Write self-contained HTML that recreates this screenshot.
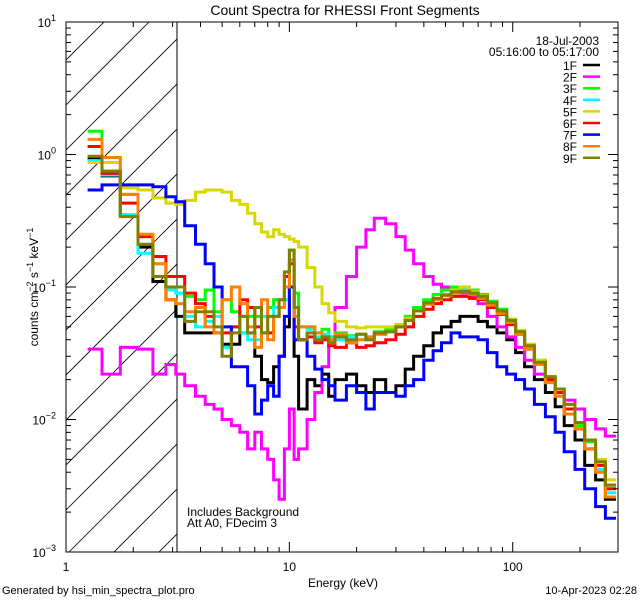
<!DOCTYPE html>
<html><head><meta charset="utf-8"><style>
body{margin:0;background:#fff;}
svg{display:block;font-family:"Liberation Sans",sans-serif;}
</style></head><body>
<svg id="chart" width="640" height="600" viewBox="0 0 640 600" xmlns="http://www.w3.org/2000/svg">
<defs>
<clipPath id="clip"><rect x="66" y="22" width="552" height="530"/></clipPath>
<clipPath id="hclip"><rect x="66" y="22" width="111" height="530"/></clipPath>
</defs>
<rect width="640" height="600" fill="#fff"/>
<text x="345" y="15" font-size="14" text-anchor="middle">Count Spectra for RHESSI Front Segments</text>
<g id="hatch" clip-path="url(#hclip)"></g>
<line x1="177" y1="22" x2="177" y2="552" stroke="#000" stroke-width="1"/>
<g id="series" clip-path="url(#clip)"></g>
<rect x="66" y="22" width="552" height="530" fill="none" stroke="#000" stroke-width="1"/>
<g id="ticks"></g>
<text transform="translate(38,287) rotate(-90)" font-size="12" text-anchor="middle">counts cm<tspan dy="-5" font-size="9">−2</tspan><tspan dy="5"> s</tspan><tspan dy="-5" font-size="9">−1</tspan><tspan dy="5"> keV</tspan><tspan dy="-5" font-size="9">−1</tspan></text>
<text x="343" y="587" font-size="12" text-anchor="middle">Energy (keV)</text>
<text x="599" y="45" font-size="12" text-anchor="end">18-Jul-2003</text>
<text x="599" y="56" font-size="12" text-anchor="end">05:16:00 to 05:17:00</text>
<g id="legend"></g>
<text x="187" y="516" font-size="12">Includes Background</text>
<text x="187" y="527" font-size="12">Att A0, FDecim 3</text>
<text x="2" y="594" font-size="11">Generated by hsi_min_spectra_plot.pro</text>
<text x="637" y="594" font-size="11" text-anchor="end">10-Apr-2023 02:28</text>
</svg>
<script>
const energyEdges=[1.25,1.45,1.75,2.1,2.45,2.8,3.1,3.4,3.8,4.2,4.6,5,5.5,6,6.5,7,7.5,8,8.5,9,9.5,10,10.5,11,12,13,14,15,16,18,20,22,24,27,30,33,36,40,44,48,53,58,64,70,77,85,94,103,113,125,140,155,170,190,210,235,260,290];
const segNames=["1F","2F","3F","4F","5F","6F","7F","8F","9F"];
const segColors=["#000000","#ff00ff","#00ff00","#00ffff","#d8d800","#ff0000","#0000ff","#ff8000","#808000"];
const s1F=[0.93,0.69,0.35,0.2,0.11,0.08,0.06,0.045,0.045,0.045,0.045,0.037,0.037,0.045,0.045,0.03,0.02,0.019,0.025,0.03,0.05,0.1,0.03,0.012,
0.02,0.018,0.022,0.015,0.02,0.022,0.018,0.016,0.02,0.016,0.018,0.024,0.03,0.036,0.045,0.05,0.055,0.06,0.06,0.055,0.05,0.045,0.04,0.032,0.025,0.02,0.016,0.0125,0.009,0.007,0.0045,0.0035,0.0025];
const s2F=[0.034,0.022,0.035,0.034,0.022,0.026,0.022,0.018,0.015,0.013,0.012,0.01,0.009,0.008,0.006,0.008,0.006,0.005,0.0035,0.0025,0.006,0.012,0.005,0.006,
0.01,0.016,0.025,0.04,0.07,0.12,0.2,0.27,0.33,0.3,0.24,0.19,0.15,0.12,0.105,0.1,0.095,0.09,0.085,0.075,0.06,0.05,0.042,0.035,0.028,0.022,0.02,0.017,0.014,0.012,0.01,0.0085,0.0075];
const s3F=[1.5,0.75,0.5,0.24,0.15,0.1,0.1,0.085,0.08,0.095,0.065,0.08,0.065,0.06,0.06,0.06,0.06,0.07,0.08,0.08,0.12,0.19,0.09,0.05,
0.05,0.045,0.048,0.042,0.045,0.043,0.044,0.042,0.046,0.048,0.052,0.06,0.07,0.08,0.088,0.095,0.1,0.1,0.095,0.088,0.078,0.068,0.057,0.046,0.036,0.028,0.021,0.016,0.012,0.009,0.0068,0.0048,0.0032];
const s4F=[0.9,0.7,0.35,0.18,0.12,0.095,0.09,0.06,0.05,0.055,0.06,0.035,0.05,0.045,0.04,0.04,0.06,0.06,0.07,0.07,0.08,0.15,0.07,0.05,
0.048,0.042,0.044,0.041,0.04,0.042,0.04,0.041,0.044,0.046,0.05,0.057,0.066,0.076,0.082,0.088,0.092,0.095,0.09,0.084,0.074,0.064,0.054,0.044,0.034,0.026,0.019,0.015,0.011,0.0085,0.006,0.0042,0.0028];
const s5F=[0.87,0.87,0.56,0.54,0.47,0.43,0.42,0.45,0.52,0.54,0.54,0.52,0.45,0.42,0.36,0.3,0.26,0.24,0.27,0.25,0.24,0.23,0.22,0.2,
0.14,0.1,0.075,0.064,0.055,0.05,0.049,0.05,0.05,0.05,0.052,0.058,0.066,0.076,0.082,0.088,0.095,0.1,0.092,0.086,0.076,0.066,0.057,0.047,0.037,0.028,0.021,0.017,0.013,0.0095,0.007,0.005,0.0035];
const s6F=[1.15,0.72,0.43,0.24,0.17,0.12,0.12,0.09,0.075,0.06,0.045,0.045,0.05,0.08,0.07,0.05,0.045,0.045,0.06,0.07,0.12,0.15,0.05,0.04,
0.042,0.038,0.04,0.036,0.035,0.038,0.035,0.036,0.038,0.04,0.044,0.05,0.06,0.068,0.075,0.08,0.085,0.085,0.082,0.08,0.07,0.062,0.052,0.044,0.034,0.026,0.02,0.016,0.012,0.0085,0.006,0.0045,0.003];
const s7F=[0.54,0.59,0.59,0.59,0.57,0.48,0.44,0.29,0.21,0.15,0.1,0.05,0.025,0.025,0.018,0.011,0.014,0.018,0.015,0.03,0.06,0.1,0.04,0.04,
0.03,0.024,0.02,0.018,0.014,0.018,0.016,0.012,0.016,0.016,0.015,0.018,0.02,0.028,0.033,0.038,0.045,0.042,0.042,0.04,0.032,0.025,0.022,0.02,0.017,0.013,0.0105,0.008,0.0057,0.0042,0.003,0.0022,0.0018];
const s8F=[1.3,0.95,0.5,0.25,0.15,0.08,0.075,0.065,0.07,0.05,0.045,0.08,0.1,0.075,0.05,0.035,0.08,0.04,0.06,0.07,0.1,0.16,0.06,0.05,
0.05,0.045,0.042,0.04,0.044,0.038,0.04,0.042,0.044,0.046,0.05,0.056,0.066,0.074,0.08,0.086,0.09,0.092,0.088,0.082,0.073,0.063,0.054,0.044,0.034,0.026,0.019,0.015,0.011,0.0085,0.006,0.004,0.0026];
const s9F=[0.97,0.75,0.34,0.21,0.12,0.1,0.1,0.055,0.065,0.065,0.05,0.03,0.045,0.06,0.045,0.07,0.045,0.06,0.06,0.08,0.13,0.19,0.07,0.04,
0.045,0.04,0.042,0.038,0.042,0.04,0.044,0.04,0.045,0.046,0.05,0.056,0.066,0.076,0.082,0.087,0.092,0.093,0.09,0.085,0.076,0.066,0.056,0.046,0.036,0.027,0.021,0.017,0.013,0.0095,0.007,0.0048,0.0032];
const yTickLabels=["10","10","10","10","10"];
const yTickExps=["1","0","−1","−2","−3"];
const yTickValues=[10,1,0.1,0.01,0.001];
const xTickValues=[1,10,100];
const xTickLabels=["1","10","100"];

const NS="http://www.w3.org/2000/svg";
const X0=66,X1=618,Y0=22,Y1=552;
const xMin=0,xMax=Math.log10(296),yMin=-3,yMax=1;
function xs(e){return X0+(Math.log10(e)-xMin)/(xMax-xMin)*(X1-X0);}
function ys(v){return Y1-(Math.log10(v)-yMin)/(yMax-yMin)*(Y1-Y0);}
function mk(tag,attrs,parent){const el=document.createElementNS(NS,tag);for(const k in attrs)el.setAttribute(k,attrs[k]);parent.appendChild(el);return el;}

// hatch
const hatch=document.getElementById('hatch');
for(let k=-12;k<20;k++){
  const x=66+k*45;
  const h=mk('line',{x1:x,y1:600,x2:x+600,y2:0,stroke:'#000','stroke-width':0.8},hatch);
  
  
}

// series
const allSeries=[s1F,s2F,s3F,s4F,s5F,s6F,s7F,s8F,s9F];
const sg=document.getElementById('series');
allSeries.forEach((vals,i)=>{
  let d="";
  vals.forEach((v,j)=>{
    const xa=xs(energyEdges[j]).toFixed(1),xb=xs(energyEdges[j+1]).toFixed(1),y=ys(v).toFixed(1);
    d+=(j===0?"M":"L")+xa+","+y+"L"+xb+","+y;
  });
  const p=mk('path',{d:d,fill:'none',stroke:segColors[i],'stroke-width':3,'stroke-linejoin':'miter'},sg);
  
  
});

// ticks
const tg=document.getElementById('ticks');
for(let dec=0;dec<3;dec++){
  for(let m=1;m<10;m++){
    const e=Math.pow(10,dec)*m;
    if(e>296)break;
    const x=xs(e),len=m===1?10:5;
    const t1=mk('line',{x1:x,y1:Y1,x2:x,y2:Y1-len,stroke:'#000'},tg);
    
    
    const t2=mk('line',{x1:x,y1:Y0,x2:x,y2:Y0+len,stroke:'#000'},tg);
    
    
  }
}
xTickValues.forEach((e,i)=>{
  const t=mk('text',{x:xs(e),y:571,'font-size':12,'text-anchor':'middle'},tg);
  t.textContent=xTickLabels[i];
  
  
});
for(let dec=-3;dec<1;dec++){
  for(let m=1;m<=10;m++){
    const v=Math.pow(10,dec)*m;
    const y=ys(v),len=(m===1||m===10)?10:5;
    const a=mk('line',{x1:X0,y1:y,x2:X0+len,y2:y,stroke:'#000'},tg);
    
    
    const b=mk('line',{x1:X1,y1:y,x2:X1-len,y2:y,stroke:'#000'},tg);
    
    
  }
}
yTickValues.forEach((v,i)=>{
  const t=mk('text',{x:56,y:ys(v)+5,'font-size':12,'text-anchor':'end'},tg);
  t.textContent=yTickLabels[i];
  const s=mk('tspan',{dy:-6,'font-size':9},t);
  s.textContent=yTickExps[i];
  
  
});

// legend
const lg=document.getElementById('legend');
segNames.forEach((n,i)=>{
  const y=65+i*11.6;
  const t=mk('text',{x:577,y:y+5,'font-size':12,'text-anchor':'end'},lg);
  t.textContent=n;
  
  
  const l=mk('line',{x1:583,y1:y,x2:600,y2:y,stroke:segColors[i],'stroke-width':2.5},lg);
  
  
});
</script>
</body></html>
